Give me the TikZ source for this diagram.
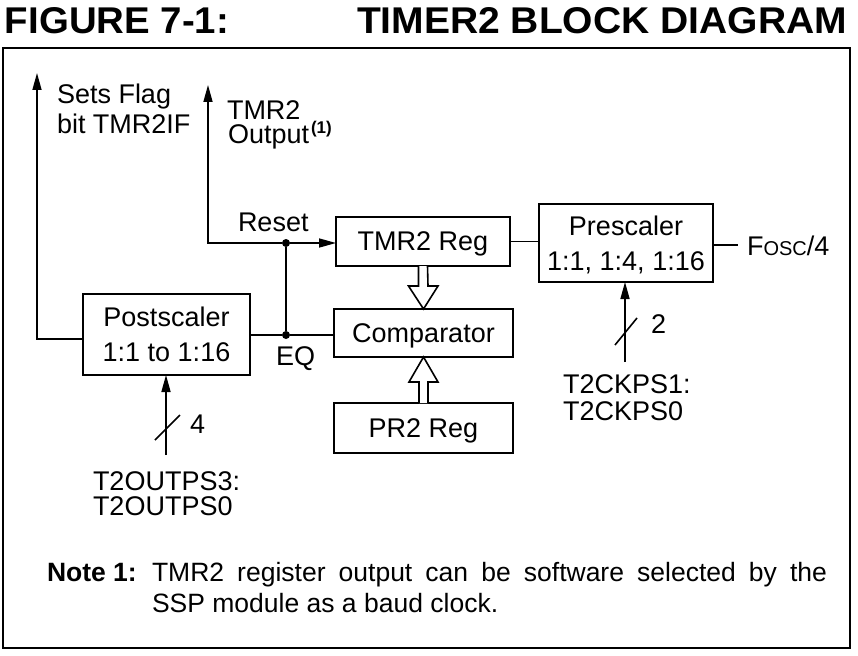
\documentclass[tikz,border=0pt]{standalone}
\usepackage{fontspec}
\usepackage{graphicx}
\setmainfont{Liberation Sans}
\usetikzlibrary{arrows.meta}
\begin{document}
\begin{tikzpicture}[x=1pt,y=-1pt,
  every node/.style={inner sep=0pt, outer sep=0pt},
  lbl/.style={font=\fontsize{27}{27}\selectfont, anchor=base west},
  notefont/.style={font=\fontsize{26.5}{26.5}\selectfont, anchor=base west},
  box/.style={draw, line width=1.6pt, font=\fontsize{27}{35}\selectfont, align=center, text depth=0pt},
  wire/.style={line width=1.6pt},
  arr/.style={wire, -{Triangle[length=17pt,width=9pt]}},
  dot/.style={circle, fill, minimum size=8pt},
  hollow/.style={line width=1.6pt, fill=white, line join=miter},
]
\useasboundingbox (0,0) rectangle (858,655);

% title
\node[anchor=base west] (figno) at (5,34) {\resizebox{224pt}{26pt}{\bfseries FIGURE 7-1:}};
\node[anchor=base west] (title) at (357,34) {\resizebox{490pt}{26pt}{\bfseries TIMER2 BLOCK DIAGRAM}};

% frame
\draw[line width=2.5pt] (3,48) rectangle (850,648);

% blocks
\node[box, minimum width=167pt, minimum height=81pt] (post) at (166.5,334.5) {Postscaler\\1:1 to 1:16};
\node[box, minimum width=174pt, minimum height=49pt] (tmr) at (423,241.5) {TMR2 Reg};
\node[box, minimum width=179pt, minimum height=48pt] (comp) at (423.5,333) {Comparator};
\node[box, minimum width=179pt, minimum height=50pt] (pr2) at (423.5,428) {PR2 Reg};
\node[box, minimum width=174pt, minimum height=78pt] (pre) at (626,243) {Prescaler\\1:1, 1:4, 1:16};

% junctions and free ends
\node[dot] (rdot) at (286,243) {};
\node[dot] (eqdot) at (286,335) {};
\coordinate (flagtip) at (37,73);
\coordinate (outtip) at (208,85);
\coordinate (foscend) at (738,245);
\coordinate (cks) at (625,362);
\coordinate (ops) at (166,455);

% labels
\node[lbl] (sets1) at (57,104) {Sets Flag};
\node[lbl] (sets2) at (57,134) {bit TMR2IF};
\node[anchor=north west, align=left, font=\fontsize{27}{24}\selectfont] (outl) at (227,100.5) {TMR2\\\hspace*{1pt}Output};
\node[anchor=base west, font=\fontsize{17}{17}\selectfont\bfseries] (out3) at (311,134) {(1)};
\node[lbl] (reset) at (238,231) {Reset};
\node[lbl] (eq) at (276,365) {EQ};
\node[lbl] (fosc) at (747,255) {F{\fontsize{20}{20}\selectfont OSC}/4};
\node[lbl] (two) at (651,333) {2};
\node[lbl] (four) at (190,433) {4};
\node[lbl] (ck1) at (563,393) {T2CKPS1:};
\node[lbl] (ck2) at (563,420) {T2CKPS0};
\node[lbl] (op1) at (93,490) {T2OUTPS3:};
\node[lbl] (op2) at (93,515) {T2OUTPS0};

% connectors
\draw[arr] ([yshift=-4.5pt]post.west) -| (flagtip);
\draw[wire] (post.east |- eqdot) -- (eqdot) -- (comp.west |- eqdot);
\draw[wire] (eqdot) -- (rdot);
\draw[arr] (rdot) -- (tmr.west |- rdot);
\draw[arr] (rdot) -| (outtip);
\draw[wire] (tmr.east) -- (tmr.east -| pre.west);
\draw[wire] (pre.east |- foscend) -- (foscend);
\draw[arr] (cks) -- (cks |- pre.south);
\draw[arr] (ops) -- (ops |- post.south);
\draw[wire] (615,345) -- (637,318);
\draw[wire] (155,440) -- (180,415);

% hollow bus arrows
\draw[hollow] ([xshift=-4.5pt]tmr.south) -- ++(0,20) -- ++(-10,0) -- (comp.north) -- ++(14.5,-23) -- ++(-10,0) -- ([xshift=4.5pt]tmr.south);
\draw[hollow] ([xshift=-4.5pt]pr2.north) -- ++(0,-21) -- ++(-10,0) -- (comp.south) -- ++(14.5,25) -- ++(-10,0) -- ([xshift=4.5pt]pr2.north);

% note
\node[notefont, font=\fontsize{26.5}{26.5}\selectfont\bfseries] (note) at (47,581) {Note 1:};
\node[notefont] (notel1) at (152,581) {\makebox[675pt][s]{TMR2 register output can be software selected by the}};
\node[notefont] (notel2) at (152,612) {SSP module as a baud clock.};
\end{tikzpicture}
\end{document}
